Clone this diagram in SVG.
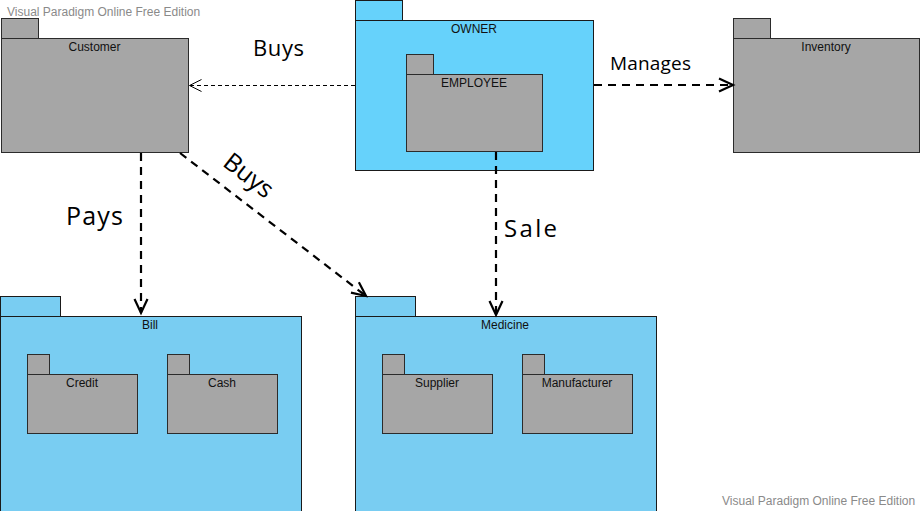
<svg xmlns="http://www.w3.org/2000/svg" width="920" height="511" viewBox="0 0 920 511">
<style>
.gray{fill:#a6a6a6;stroke:#2b2b2b;stroke-width:1}
.blue{fill:#79cdf2;stroke:#1a1a1a;stroke-width:1}
.owner{fill:#66d2fb;stroke:#1a1a1a;stroke-width:1}
.lbl{font-family:"Liberation Sans",Arial,sans-serif;font-size:12px;fill:#111;text-anchor:middle}
.wm{font-family:"Liberation Sans",Arial,sans-serif;font-size:12px;fill:#8a8a8a}
.big{font-family:"Open Sans","Noto Sans",sans-serif;fill:#000}
.thin{fill:none;stroke:#000;stroke-width:1;stroke-dasharray:4 3}
.thick{fill:none;stroke:#000;stroke-width:2.2;stroke-dasharray:8 6}
</style>
<defs>
<marker id="aThin" markerUnits="userSpaceOnUse" markerWidth="16" markerHeight="16" refX="13" refY="7" orient="auto">
<path d="M1,1 L13,7 L1,13" fill="none" stroke="#000" stroke-width="1" stroke-dasharray="none"/>
</marker>
<marker id="aThick" markerUnits="userSpaceOnUse" markerWidth="18" markerHeight="18" refX="15" refY="8" orient="auto">
<path d="M1,1.5 L15,8 L1,14.5" fill="none" stroke="#000" stroke-width="2.2" stroke-dasharray="none"/>
</marker>
</defs>
<rect width="920" height="511" fill="#fff"/>
<text class="wm" x="7" y="16">Visual Paradigm Online Free Edition</text>
<text class="wm" x="722" y="505">Visual Paradigm Online Free Edition</text>

<g id="customer">
<rect class="gray" x="1.5" y="18.5" width="37" height="20"/>
<rect class="gray" x="1.5" y="38.5" width="187" height="114"/>
<text class="lbl" x="94.5" y="51">Customer</text>
</g>
<g id="owner">
<rect class="owner" x="355.5" y="0.5" width="47" height="20"/>
<rect class="owner" x="355.5" y="20.5" width="238" height="150"/>
<text class="lbl" x="474" y="33">OWNER</text>
<g id="employee">
<rect class="gray" x="406.5" y="54.5" width="27" height="20"/>
<rect class="gray" x="406.5" y="74.5" width="136" height="77"/>
<text class="lbl" x="474" y="87">EMPLOYEE</text>
</g>
</g>
<g id="inventory">
<rect class="gray" x="733.5" y="18.5" width="37" height="20"/>
<rect class="gray" x="733.5" y="38.5" width="186" height="114"/>
<text class="lbl" x="826" y="51">Inventory</text>
</g>
<g id="bill">
<rect class="blue" x="0.5" y="296.5" width="60" height="20"/>
<rect class="blue" x="0.5" y="316.5" width="301" height="200"/>
<text class="lbl" x="150" y="329">Bill</text>
<g id="credit">
<rect class="gray" x="27.5" y="354.5" width="22" height="20"/>
<rect class="gray" x="27.5" y="374.5" width="110" height="59"/>
<text class="lbl" x="82" y="387">Credit</text>
</g>
<g id="cash">
<rect class="gray" x="167.5" y="354.5" width="22" height="20"/>
<rect class="gray" x="167.5" y="374.5" width="110" height="59"/>
<text class="lbl" x="222" y="387">Cash</text>
</g>
</g>
<g id="medicine">
<rect class="blue" x="355.5" y="296.5" width="60" height="20"/>
<rect class="blue" x="355.5" y="316.5" width="301" height="200"/>
<text class="lbl" x="505" y="329">Medicine</text>
<g id="supplier">
<rect class="gray" x="382.5" y="354.5" width="22" height="20"/>
<rect class="gray" x="382.5" y="374.5" width="110" height="59"/>
<text class="lbl" x="437" y="387">Supplier</text>
</g>
<g id="manufacturer">
<rect class="gray" x="522.5" y="354.5" width="22" height="20"/>
<rect class="gray" x="522.5" y="374.5" width="110" height="59"/>
<text class="lbl" x="577" y="387">Manufacturer</text>
</g>
</g>

<g id="connectors">
<path class="thin" d="M355,85.5 L189.5,85.5" marker-end="url(#aThin)"/>
<path class="thick" d="M594,85 L733,85" marker-end="url(#aThick)"/>
<path class="thick" d="M141,153 L141,313" marker-end="url(#aThick)"/>
<path class="thick" d="M180,153 L366,296" marker-end="url(#aThick)"/>
<path class="thick" d="M496,152 L496,315" marker-end="url(#aThick)"/>
<text class="big" x="253" y="56" font-size="22" textLength="51" lengthAdjust="spacing">Buys</text>
<text class="big" x="610" y="70" font-size="19" textLength="81" lengthAdjust="spacing">Manages</text>
<text class="big" x="66" y="225" font-size="25" textLength="57" lengthAdjust="spacing">Pays</text>
<text class="big" x="504" y="237" font-size="24" textLength="53" lengthAdjust="spacing">Sale</text>
<text class="big" transform="translate(249,175) rotate(38)" x="0" y="9" font-size="25" text-anchor="middle">Buys</text>
</g>
</svg>
